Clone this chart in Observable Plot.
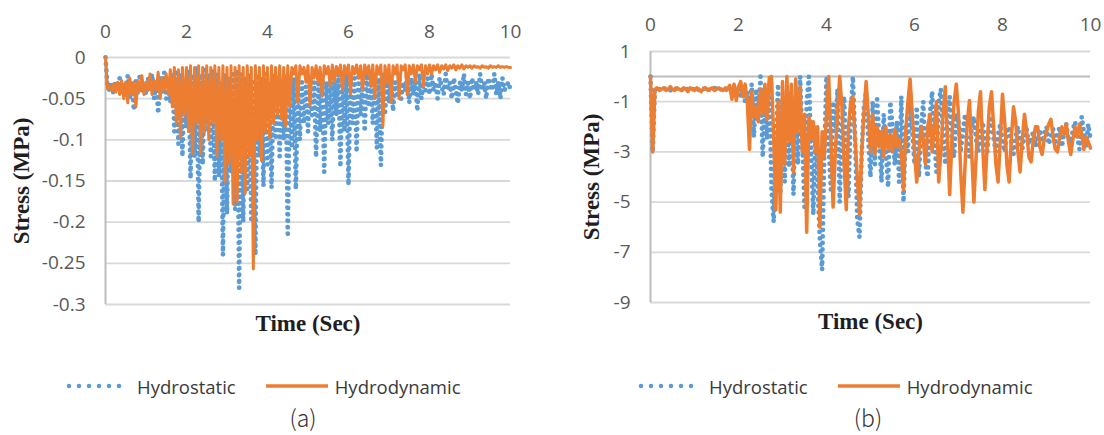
<!DOCTYPE html>
<html><head><meta charset="utf-8">
<script src="https://cdn.jsdelivr.net/npm/d3@7"></script>
<script src="https://cdn.jsdelivr.net/npm/@observablehq/plot@0.6"></script>
<style>
body{margin:0;background:#fff;}
#wrap{position:relative;width:1104px;height:435px;overflow:hidden;background:#fff;}
.panel{position:absolute;top:0;width:552px;height:345px;}
.legend{position:absolute;top:374px;height:24px;display:flex;align-items:center;font-family:"Open Sans";font-size:18.5px;color:#3a3a3a;white-space:nowrap;}
.cap{position:absolute;top:405px;line-height:1.1;font-family:"Noto Sans CJK JP";font-weight:300;font-size:23px;color:#333;transform:translateX(-50%);}
</style></head>
<body><div id="wrap"></div>
<script>
const timeStep = 0.05;
const xTicks = [0, 2, 4, 6, 8, 10];
const yTicksA = [0, -0.05, -0.1, -0.15, -0.2, -0.25, -0.3];
const yTickLabelsA = ["0", "-0.05", "-0.1", "-0.15", "-0.2", "-0.25", "-0.3"];
const yTicksB = [1, -1, -3, -5, -7, -9];
const yTickLabelsB = ["1", "-1", "-3", "-5", "-7", "-9"];
const seriesNames = ["Hydrostatic", "Hydrodynamic"];
const panelCaptions = ["(a)", "(b)"];
const xTitle = "Time (Sec)";
const yTitle = "Stress (MPa)";

// (a) stresses, MPa, sampled every 0.05 s from 0 to 10 s
const hydrostaticA = [
0,-0.035,-0.04,-0.03,-0.045,-0.03,-0.038,-0.025,-0.045,-0.03,-0.04,-0.022,-0.05,-0.03,-0.064,-0.028,-0.045,-0.02,-0.04,-0.03,
-0.045,-0.025,-0.04,-0.02,-0.05,-0.03,-0.068,-0.025,-0.045,-0.018,-0.05,-0.03,-0.055,-0.02,-0.09,-0.015,-0.105,-0.02,-0.12,-0.03,
-0.085,-0.015,-0.147,-0.02,-0.12,-0.012,-0.2,-0.02,-0.13,-0.015,-0.09,-0.02,-0.12,-0.015,-0.15,-0.02,-0.145,-0.03,-0.24,-0.02,
-0.19,-0.025,-0.14,-0.02,-0.185,-0.015,-0.28,-0.02,-0.2,-0.025,-0.16,-0.02,-0.2,-0.03,-0.24,-0.02,-0.12,-0.025,-0.156,-0.02,
-0.13,-0.03,-0.158,-0.02,-0.1,-0.025,-0.12,-0.03,-0.1,-0.02,-0.218,-0.03,-0.11,-0.025,-0.16,-0.04,-0.1,-0.03,-0.08,-0.035,
-0.09,-0.025,-0.07,-0.03,-0.121,-0.02,-0.09,-0.025,-0.139,-0.03,-0.08,-0.02,-0.1,-0.03,-0.07,-0.02,-0.133,-0.025,-0.09,-0.02,
-0.155,-0.02,-0.08,-0.025,-0.115,-0.02,-0.07,-0.03,-0.09,-0.02,-0.06,-0.025,-0.08,-0.02,-0.11,-0.025,-0.131,-0.02,-0.07,-0.03,
-0.055,-0.025,-0.065,-0.03,-0.045,-0.02,-0.05,-0.03,-0.04,-0.02,-0.055,-0.025,-0.045,-0.03,-0.065,-0.02,-0.05,-0.03,-0.04,-0.025,
-0.045,-0.02,-0.04,-0.03,-0.05,-0.025,-0.035,-0.045,-0.02,-0.04,-0.03,-0.05,-0.025,-0.04,-0.056,-0.03,-0.04,-0.02,-0.045,-0.03,
-0.05,-0.025,-0.04,-0.03,-0.045,-0.02,-0.04,-0.03,-0.05,-0.025,-0.035,-0.04,-0.02,-0.045,-0.03,-0.05,-0.025,-0.04,-0.035,-0.03,-0.04
];
const hydrodynamicA = [
0,-0.038,-0.035,-0.04,-0.032,-0.042,-0.03,-0.045,-0.028,-0.05,-0.03,-0.055,-0.025,-0.045,-0.03,-0.06,-0.028,-0.04,-0.022,-0.045,
-0.03,-0.04,-0.02,-0.045,-0.028,-0.04,-0.018,-0.05,-0.025,-0.04,-0.02,-0.045,-0.015,-0.06,-0.012,-0.08,-0.015,-0.097,-0.012,-0.07,
-0.012,-0.09,-0.01,-0.117,-0.012,-0.08,-0.01,-0.117,-0.012,-0.09,-0.01,-0.1,-0.012,-0.08,-0.01,-0.12,-0.012,-0.1,-0.01,-0.151,
-0.012,-0.13,-0.01,-0.178,-0.012,-0.175,-0.01,-0.14,-0.012,-0.165,-0.01,-0.12,-0.012,-0.257,-0.01,-0.1,-0.012,-0.125,-0.01,-0.09,
-0.012,-0.097,-0.01,-0.08,-0.012,-0.07,-0.01,-0.075,-0.012,-0.083,-0.01,-0.06,-0.012,-0.02,-0.01,-0.055,-0.01,-0.02,-0.012,-0.03,
-0.01,-0.058,-0.012,-0.025,-0.01,-0.03,-0.012,-0.047,-0.01,-0.02,-0.011,-0.035,-0.009,-0.03,-0.011,-0.02,-0.009,-0.04,-0.01,-0.02,
-0.009,-0.044,-0.011,-0.02,-0.009,-0.025,-0.01,-0.04,-0.009,-0.02,-0.01,-0.035,-0.009,-0.05,-0.01,-0.02,-0.009,-0.083,-0.01,-0.03,
-0.009,-0.055,-0.01,-0.02,-0.009,-0.05,-0.01,-0.015,-0.009,-0.045,-0.01,-0.02,-0.009,-0.03,-0.01,-0.015,-0.009,-0.035,-0.01,-0.02,
-0.009,-0.02,-0.01,-0.015,-0.009,-0.018,-0.01,-0.014,-0.009,-0.016,-0.01,-0.013,-0.009,-0.015,-0.01,-0.013,-0.009,-0.014,-0.01,-0.012,
-0.01,-0.013,-0.01,-0.012,-0.011,-0.013,-0.01,-0.012,-0.011,-0.013,-0.01,-0.012,-0.011,-0.012,-0.01,-0.012,-0.011,-0.012,-0.011,-0.012,-0.012
];

// (b) stresses, MPa, sampled every 0.05 s from 0 to 10 s
const hydrostaticB = [
0,-3.0,-0.5,-0.45,-0.5,-0.55,-0.5,-0.45,-0.5,-0.55,-0.5,-0.45,-0.5,-0.5,-0.55,-0.45,-0.5,-0.5,-0.45,-0.5,
-0.5,-0.45,-0.55,-0.5,-0.5,-0.45,-0.55,-0.5,-0.5,-0.45,-0.5,-0.55,-0.5,-0.45,-0.5,-0.55,-0.5,-0.6,-0.4,-0.7,
-0.5,-0.8,-0.4,-1.0,-0.6,-1.4,-0.3,-2.4,-0.5,-1.6,0.0,-3.2,-1.0,-2.5,-0.2,-4.5,-5.8,-2.5,-0.3,-4.7,
-1.0,-4.2,-0.5,-3.6,-1.5,-4.7,-0.8,-3.5,0.0,-2.5,-5.2,-1.0,0.0,-3.0,-5.5,-2.0,-4.5,-6.5,-7.7,-3.0,
0.0,-2.8,-4.5,-1.0,-2.2,-0.5,-5.0,-2.0,-0.8,-3.5,-4.8,-1.5,0.0,-2.5,-5.7,-6.4,-3.0,-1.2,-0.6,-2.5,
-4.0,-1.0,-3.5,-0.9,-2.5,-4.2,-1.5,-3.0,-4.4,-1.0,-2.0,-3.5,-1.8,-4.2,-0.8,-5.0,-2.0,-3.0,-0.7,-2.2,
-3.5,-1.2,-4.0,-2.0,-1.0,-3.5,-4.0,-1.5,-0.6,-2.5,-3.8,-1.0,-0.5,-2.5,-3.5,-1.5,-0.8,-2.8,-3.2,-1.5,
-1.8,-3.0,-2.2,-1.5,-2.8,-3.2,-2.0,-1.6,-2.5,-3.0,-2.2,-1.8,-2.6,-3.1,-2.0,-1.7,-2.5,-3.0,-2.3,-1.9,
-2.6,-3.0,-2.2,-2.0,-2.7,-3.1,-2.4,-2.0,-2.6,-2.9,-2.3,-2.1,-2.7,-2.5,-2.2,-2.8,-2.4,-2.1,-2.6,-2.3,
-2.0,-2.7,-2.4,-2.1,-2.6,-2.3,-2.0,-2.8,-2.2,-1.9,-2.5,-2.7,-2.1,-1.8,-2.4,-2.9,-1.6,-2.2,-2.8,-1.9,-2.5
];
const hydrodynamicB = [
0,-3.0,-0.5,-0.45,-0.55,-0.5,-0.45,-0.55,-0.5,-0.4,-0.5,-0.55,-0.45,-0.5,-0.55,-0.45,-0.5,-0.6,-0.45,-0.5,
-0.55,-0.45,-0.5,-0.6,-0.5,-0.45,-0.55,-0.5,-0.45,-0.55,-0.5,-0.45,-0.5,-0.55,-0.45,-0.5,-0.35,-0.9,-0.3,-0.95,
-0.4,-0.2,-0.8,-0.3,-1.0,-2.9,-0.6,-1.6,-1.2,-1.8,-0.5,-1.5,-0.3,-1.7,-0.05,0.0,-2.5,-5.3,-1.0,-5.4,
-0.2,-3.5,0.0,-2.6,-0.3,-3.8,-0.1,-2.2,-0.4,-3.0,-1.5,-6.2,-1.6,-2.5,-1.8,-3.0,-2.0,-6.0,-2.2,-3.2,
-1.5,0.0,-2.5,-5.2,-3.0,-1.5,0.0,-1.2,-3.5,-5.3,-2.0,-1.0,-0.8,-2.5,-4.0,-5.5,-3.0,-1.5,-0.2,-1.5,
-3.0,-1.5,-3.1,-2.0,-2.8,-2.2,-3.2,-2.0,-2.9,-2.3,-3.0,-2.1,-2.8,-2.5,-3.0,-4.5,-2.2,-1.0,-0.1,-1.5,
-3.0,-4.2,-3.0,-2.0,-2.5,-3.5,-2.0,-1.5,-3.0,-2.0,-1.0,-4.2,-3.0,-1.5,-0.4,-2.5,-4.7,-2.5,-1.0,-0.3,
-1.5,-3.8,-5.4,-3.5,-1.8,-0.95,-3.0,-5.0,-3.2,-1.4,-0.6,-2.8,-4.5,-2.8,-1.2,-0.6,-2.0,-3.5,-4.2,-2.5,
-0.7,-1.8,-3.5,-4.2,-2.5,-1.2,-1.8,-3.0,-3.8,-2.5,-1.5,-2.2,-3.2,-3.4,-2.5,-2.0,-2.0,-2.8,-3.1,-2.5,
-2.2,-1.9,-1.7,-2.4,-2.9,-3.0,-2.4,-2.0,-2.3,-1.9,-2.6,-3.1,-2.5,-2.0,-2.4,-1.9,-2.3,-2.9,-2.4,-2.6,-2.85
];

const blue = "#5B9BD5", orange = "#ED7D31";

function toRows(values) {
  return values.map((v, i) => ({t: +(i * timeStep).toFixed(2), v}));
}

function makePanel(o) {
  const fmt = d => o.yLabels[o.yTicks.indexOf(d)];
  return Plot.plot({
    width: 552, height: 345,
    marginLeft: o.ml, marginRight: o.mr, marginTop: o.mt, marginBottom: o.mb,
    x: {domain: [0, 10], label: null},
    y: {domain: o.yDomain, label: null},
    style: {fontFamily: "Open Sans", fontSize: "19px", color: "#595959", background: "transparent", overflow: "visible"},
    marks: [
      Plot.gridY(o.yTicks, {stroke: "#d9d9d9", strokeOpacity: 1, strokeWidth: 1.8}),
      o.zero ? Plot.ruleY([0], {stroke: "#bcbcbc", strokeWidth: 2}) : null,
      Plot.ruleX([0], {stroke: "#bcbcbc", strokeWidth: 2}),
      Plot.axisX(xTicks, {anchor: "top", tickSize: 0, tickPadding: o.xPad, tickFormat: d => String(d), label: null}),
      Plot.axisY(o.yTicks, {anchor: "left", tickSize: 0, tickPadding: 20, tickFormat: fmt, label: null}),
      Plot.line(toRows(o.hs), {x: "t", y: "v", stroke: blue, strokeWidth: 4.8, strokeDasharray: "0 6.5", strokeLinecap: "round"}),
      Plot.line(toRows(o.hd), {x: "t", y: "v", stroke: orange, strokeWidth: o.hdWidth, strokeLinejoin: "round"}),
      Plot.text([yTitle], {text: d => d, frameAnchor: "left", dx: o.titleDx, rotate: -90, textAnchor: "middle", lineAnchor: "middle",
        fontSize: 23, fontWeight: "bold", fontFamily: "Liberation Serif", fill: "#1f1f1f"}),
      Plot.text([xTitle], {text: d => d, frameAnchor: "bottom", dy: o.xTitleDy, textAnchor: "middle", lineAnchor: "middle",
        fontSize: 23, fontWeight: "bold", fontFamily: "Liberation Serif", fill: "#1f1f1f"})
    ]
  });
}

const wrap = document.getElementById("wrap");
const panels = [
  {left: 0, hs: hydrostaticA, hd: hydrodynamicA, yDomain: [-0.3, 0], yTicks: yTicksA, yLabels: yTickLabelsA,
   ml: 105, mr: 42, mt: 57, mb: 41, zero: false, xPad: 20, titleDx: -84, xTitleDy: 19, legendLeft: 66, capX: 303, hdWidth: 3},
  {left: 552, hs: hydrostaticB, hd: hydrodynamicB, yDomain: [-9, 1], yTicks: yTicksB, yLabels: yTickLabelsB,
   ml: 98, mr: 14, mt: 51, mb: 43, zero: true, xPad: 21, titleDx: -59, xTitleDy: 19, legendLeft: 86, capX: 316, hdWidth: 3.5}
];
panels.forEach((p, k) => {
  const div = document.createElement("div");
  div.className = "panel";
  div.style.left = p.left + "px";
  div.appendChild(makePanel(p));
  wrap.appendChild(div);

  const lg = document.createElement("div");
  lg.className = "legend";
  lg.style.left = (p.left + p.legendLeft) + "px";
  lg.innerHTML =
    `<svg width="66" height="10"><line x1="3" y1="5" x2="63" y2="5" stroke="${blue}" stroke-width="4.5" stroke-dasharray="0 10" stroke-linecap="round"/></svg>` +
    `<span style="margin-left:5px">${seriesNames[0]}</span>` +
    `<svg style="margin-left:30px" width="62" height="10"><line x1="0" y1="5" x2="62" y2="5" stroke="${orange}" stroke-width="3.5"/></svg>` +
    `<span style="margin-left:7px">${seriesNames[1]}</span>`;
  wrap.appendChild(lg);

  const cap = document.createElement("div");
  cap.className = "cap";
  cap.style.left = (p.left + p.capX) + "px";
  cap.textContent = panelCaptions[k];
  wrap.appendChild(cap);
});
</script>
</body></html>
